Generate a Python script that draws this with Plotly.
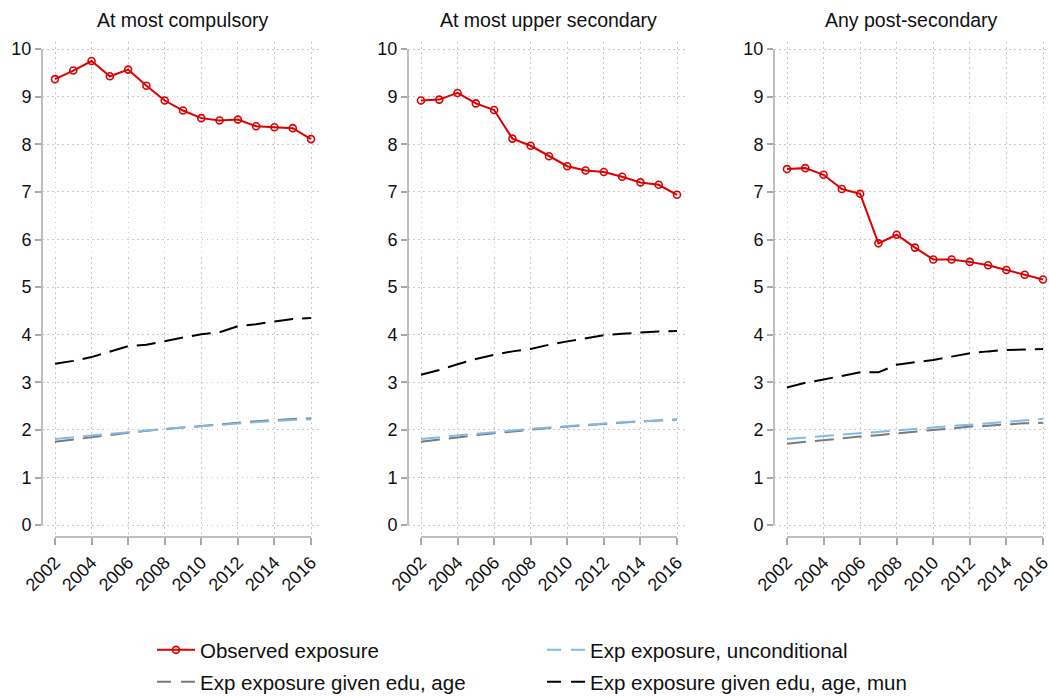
import plotly.graph_objects as go

years = list(range(2002, 2017))
panel_titles = ["At most compulsory", "At most upper secondary", "Any post-secondary"]
series_names = ["Observed exposure", "Exp exposure, unconditional",
                "Exp exposure given edu, age", "Exp exposure given edu, age, mun"]

observed_compulsory = [9.37, 9.55, 9.75, 9.43, 9.57, 9.23, 8.92, 8.71, 8.55, 8.50, 8.52, 8.38, 8.36, 8.34, 8.11]
observed_upper_sec = [8.92, 8.94, 9.08, 8.86, 8.72, 8.12, 7.97, 7.75, 7.54, 7.45, 7.42, 7.32, 7.20, 7.15, 6.94]
observed_post_sec = [7.48, 7.50, 7.36, 7.06, 6.96, 5.92, 6.10, 5.83, 5.58, 5.58, 5.53, 5.46, 5.36, 5.26, 5.16]

uncond_compulsory = [1.81, 1.85, 1.88, 1.92, 1.95, 1.99, 2.02, 2.05, 2.08, 2.11, 2.14, 2.16, 2.19, 2.21, 2.22]
uncond_upper_sec = [1.81, 1.85, 1.88, 1.92, 1.95, 1.99, 2.02, 2.05, 2.08, 2.11, 2.13, 2.16, 2.18, 2.20, 2.22]
uncond_post_sec = [1.81, 1.84, 1.87, 1.90, 1.94, 1.97, 2.00, 2.03, 2.06, 2.09, 2.12, 2.15, 2.18, 2.21, 2.23]

eduage_compulsory = [1.75, 1.80, 1.85, 1.89, 1.94, 1.98, 2.02, 2.05, 2.08, 2.12, 2.15, 2.18, 2.21, 2.23, 2.24]
eduage_upper_sec = [1.75, 1.80, 1.85, 1.89, 1.93, 1.97, 2.01, 2.04, 2.07, 2.10, 2.13, 2.16, 2.18, 2.20, 2.22]
eduage_post_sec = [1.71, 1.75, 1.78, 1.82, 1.86, 1.89, 1.93, 1.96, 2.00, 2.03, 2.07, 2.09, 2.12, 2.14, 2.15]

eduagemun_compulsory = [3.39, 3.45, 3.53, 3.64, 3.76, 3.79, 3.87, 3.94, 4.01, 4.05, 4.18, 4.22, 4.28, 4.33, 4.35]
eduagemun_upper_sec = [3.16, 3.26, 3.38, 3.49, 3.58, 3.65, 3.70, 3.79, 3.86, 3.92, 3.99, 4.02, 4.05, 4.07, 4.08]
eduagemun_post_sec = [2.89, 2.99, 3.06, 3.13, 3.21, 3.21, 3.37, 3.42, 3.47, 3.54, 3.61, 3.65, 3.68, 3.69, 3.70]

x_ticks = list(range(2002, 2017, 2))
y_ticks = list(range(0, 11))

panels = [
    (observed_compulsory, uncond_compulsory, eduage_compulsory, eduagemun_compulsory),
    (observed_upper_sec, uncond_upper_sec, eduage_upper_sec, eduagemun_upper_sec),
    (observed_post_sec, uncond_post_sec, eduage_post_sec, eduagemun_post_sec),
]

FONT = "Liberation Sans, Arial, sans-serif"
TXT = "#111111"
RED = "#dc0000"
BLUE = "#7fbbea"
GRAY = "#7a7a7a"
BLACK = "#000000"
AXIS = "#a8a8a8"
GRID = "#c8c8c8"

W, H = 1049, 697
ML, MR, MT, MB = 42, 0, 42, 160
PW = W - ML - MR
PH = H - MT - MB
doms = [(0, 280 / PW), (366 / PW, 646 / PW), (732 / PW, 1.0)]
px_per_year = 256 / 14.0
xranges = []
for d in doms:
    width_px = (d[1] - d[0]) * PW
    lo = years[0] - 13 / px_per_year
    xranges.append([lo, lo + width_px / px_per_year])

fig = go.Figure()
plot_dash = "19px,9px"
legend_dash = "14px,10px"

for i, (obs, unc, ea, eam) in enumerate(panels):
    xa = "x" if i == 0 else f"x{i+1}"
    ya = "y" if i == 0 else f"y{i+1}"
    for vals, col in ((eam, BLACK), (ea, GRAY), (unc, BLUE)):
        fig.add_trace(go.Scatter(x=years, y=vals, mode="lines",
                                 line=dict(color=col, width=2, dash=plot_dash),
                                 xaxis=xa, yaxis=ya, showlegend=False))
    fig.add_trace(go.Scatter(x=years, y=obs, mode="lines+markers",
                             line=dict(color=RED, width=2),
                             marker=dict(symbol="circle-open", size=7, color=RED,
                                         line=dict(width=1.6, color=RED)),
                             xaxis=xa, yaxis=ya, showlegend=False))

# legend entries (no data, only legend samples)
fig.add_trace(go.Scatter(x=[None], y=[None], mode="lines+markers", name=series_names[0],
                         line=dict(color=RED, width=2),
                         marker=dict(symbol="circle-open", size=7, color=RED,
                                     line=dict(width=1.6, color=RED)),
                         legend="legend"))
fig.add_trace(go.Scatter(x=[None], y=[None], mode="lines", name=series_names[1],
                         line=dict(color=BLUE, width=2, dash=legend_dash), legend="legend"))
fig.add_trace(go.Scatter(x=[None], y=[None], mode="lines", name=series_names[2],
                         line=dict(color=GRAY, width=2, dash=legend_dash), legend="legend2"))
fig.add_trace(go.Scatter(x=[None], y=[None], mode="lines", name=series_names[3],
                         line=dict(color=BLACK, width=2, dash=legend_dash), legend="legend2"))

layout = dict(
    width=W, height=H,
    margin=dict(l=ML, r=MR, t=MT, b=MB),
    paper_bgcolor="white", plot_bgcolor="white",
    font=dict(family=FONT, size=18, color=TXT),
    annotations=[], shapes=[],
)
for i, d in enumerate(doms):
    sx = "" if i == 0 else str(i + 1)
    layout[f"xaxis{sx}"] = dict(
        domain=list(d), range=xranges[i], tickvals=x_ticks, tickangle=-45,
        ticks="outside", ticklen=7, tickwidth=1.5, tickcolor=AXIS,
        showline=False, zeroline=False, showgrid=True, gridcolor=GRID,
        griddash="1.5px,3.5px", gridwidth=1, anchor=f"y{sx}", automargin=False,
        ticklabeloverflow="allow",
        tickfont=dict(size=18, family=FONT, color=TXT),
    )
    layout[f"yaxis{sx}"] = dict(
        domain=[0, 1], range=[-0.25, 10.15], tickvals=y_ticks,
        ticks="outside", ticklen=6, tickwidth=1.5, tickcolor=AXIS,
        showline=False, zeroline=False, showgrid=True, gridcolor=GRID,
        griddash="1.5px,3.5px", gridwidth=1, anchor=f"x{sx}", automargin=False,
        tickfont=dict(size=18, family=FONT, color=TXT),
    )
    layout["annotations"].append(dict(
        text=panel_titles[i], x=(d[0] + d[1]) / 2, y=1, xref="paper", yref="paper",
        xanchor="center", yanchor="middle", yshift=22, showarrow=False,
        font=dict(size=19.5, family=FONT, color=TXT),
    ))
    layout["shapes"].append(dict(
        type="line", xref=f"x{sx} domain", x0=0, x1=0, yref=f"y{sx}",
        y0=y_ticks[0], y1=y_ticks[-1], line=dict(color=AXIS, width=1.5), layer="above"))
    layout["shapes"].append(dict(
        type="line", xref=f"x{sx}", x0=x_ticks[0], x1=x_ticks[-1], yref=f"y{sx} domain",
        y0=0, y1=0, line=dict(color=AXIS, width=1.5), layer="above"))

legend_common = dict(orientation="h", xanchor="left", yanchor="middle",
                     yref="container",
                     font=dict(size=20.5, family=FONT, color=TXT),
                     entrywidth=337, entrywidthmode="pixels",
                     bgcolor="rgba(0,0,0,0)", traceorder="normal", itemwidth=38)
layout["legend"] = dict(legend_common, x=(152 - ML) / PW, y=1 - 650 / H)
layout["legend2"] = dict(legend_common, x=(152 - ML) / PW, y=1 - 682 / H)

fig.update_layout(**layout)
fig.write_html("out.html", config={"displayModeBar": False},
               post_script="document.body.style.margin='0px';")
